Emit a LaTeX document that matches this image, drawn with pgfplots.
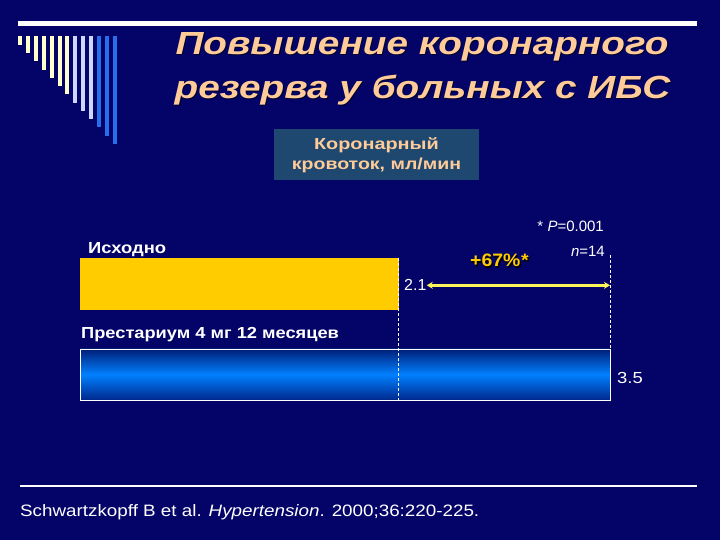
\documentclass[border=0pt]{standalone}
\usepackage{pgfplots}
\pgfplotsset{compat=1.18}
\usepackage{fontspec}
\setmainfont{Liberation Sans}
\usetikzlibrary{arrows.meta}
\definecolor{bg}{RGB}{3,3,104}
\definecolor{peach}{RGB}{255,204,153}
\definecolor{boxc}{RGB}{30,72,112}
\definecolor{goldbar}{RGB}{255,204,0}
\definecolor{arrowy}{RGB}{250,245,90}
\definecolor{pctc}{RGB}{255,204,0}
\definecolor{lightyel}{RGB}{255,255,204}
\definecolor{lightblu}{RGB}{204,214,255}
\definecolor{midblu}{RGB}{40,110,235}
\definecolor{bartop}{RGB}{0,30,120}
\definecolor{barmid}{RGB}{0,128,255}
\definecolor{barbot}{RGB}{0,40,140}
\newcommand\fs[1]{\fontsize{#1}{#1}\selectfont}
\begin{document}
\begin{tikzpicture}
\fill[bg] (0pt,0pt) rectangle (720pt,540pt);
\fill[white] (18pt,513.5pt) rectangle (697pt,518.5pt);
\foreach \i/\c in {0/lightyel,1/lightyel,2/lightyel,3/lightyel,4/lightyel,5/lightyel,6/lightyel,7/lightblu,8/lightblu,9/lightblu,10/midblu,11/midblu,12/midblu}{
  \fill[\c] ({18pt+7.9pt*\i},504pt) rectangle ({22pt+7.9pt*\i},{495pt-8.25pt*\i});
}
\node[anchor=base, text=black!60!bg, font=\fs{32}\bfseries\itshape, inner sep=0pt] at (423pt,484pt) {\scalebox{1.21}[1]{Повышение коронарного}};
\node[anchor=base, text=black!60!bg, font=\fs{32}\bfseries\itshape, inner sep=0pt] at (423.5pt,440pt) {\scalebox{1.21}[1]{резерва у больных с ИБС}};
\node[anchor=base, text=peach, font=\fs{32}\bfseries\itshape, inner sep=0pt] at (422pt,485pt) {\scalebox{1.21}[1]{Повышение коронарного}};
\node[anchor=base, text=peach, font=\fs{32}\bfseries\itshape, inner sep=0pt] at (422.5pt,441pt) {\scalebox{1.21}[1]{резерва у больных с ИБС}};
\fill[boxc] (274pt,360pt) rectangle (479pt,411pt);
\node[anchor=base, text=peach, font=\fs{16}\bfseries, inner sep=0pt] at (376.5pt,390pt) {\scalebox{1.24}[1]{Коронарный}};
\node[anchor=base, text=peach, font=\fs{16}\bfseries, inner sep=0pt] at (376.5pt,370pt) {\scalebox{1.22}[1]{кровоток, мл/мин}};
\node[anchor=base west, text=white, font=\fs{16}\bfseries, inner sep=0pt] at (88pt,286pt) {\scalebox{1.15}[1]{Исходно}};
\node[anchor=base west, text=white, font=\fs{16}\bfseries, inner sep=0pt] at (81pt,201pt) {\scalebox{1.14}[1]{Престариум 4 мг 12 месяцев}};
\fill[white] (20pt,53.3pt) rectangle (697pt,54.7pt);
\node[anchor=base west, text=white, font=\fs{16.5}, inner sep=0pt] at (20pt,23pt) {\scalebox{1.14}[1]{Schwartzkopff B et al. \textit{Hypertension}. 2000;36:220-225.}};
\begin{axis}[at={(80pt,120pt)}, anchor=south west, scale only axis, width=530pt, height=182pt,
  xmin=0, xmax=3.5, ymin=-0.5, ymax=1.5, hide axis, clip=false]
\addplot[xbar, bar width=51pt, bar shift=0pt, fill=goldbar, draw=goldbar] coordinates {(2.1,1)};
\addplot[xbar, bar width=51pt, bar shift=0pt, draw=white, line width=0.8pt, top color=bartop, bottom color=barbot, middle color=barmid] coordinates {(3.5,0)};
\draw[white, line width=0.6pt, dash pattern=on 3pt off 2pt] (axis cs:2.1,1.28) -- (axis cs:2.1,-0.30);
\draw[white, line width=0.6pt, dash pattern=on 3pt off 2pt] (axis cs:3.5,1.31) -- (axis cs:3.5,-0.28);
\draw[arrowy, line width=3pt, {Stealth[length=6pt,width=7pt]}-{Stealth[length=6pt,width=7pt]}] (axis cs:2.29,0.98) -- (axis cs:3.5,0.98);
\node[anchor=west, text=white, font=\fs{16}, inner sep=0pt] at (axis cs:2.1,0.98) [xshift=6pt] {2.1};
\node[anchor=west, text=white, font=\fs{16}, inner sep=0pt] at (axis cs:3.5,-0.04) [xshift=7pt] {\scalebox{1.15}[1]{3.5}};
\node[text=black, font=\fs{18}\bfseries, inner sep=0pt] at (axis cs:2.77,1.25) [xshift=1.2pt,yshift=-1.2pt] {\scalebox{1.08}[1]{+67\%\textit{*}}};
\node[text=pctc, font=\fs{18}\bfseries, inner sep=0pt] at (axis cs:2.77,1.25) {\scalebox{1.08}[1]{+67\%\textit{*}}};
\node[anchor=east, text=white, font=\fs{15}, inner sep=0pt] at (axis cs:3.5,1.63) [xshift=-6pt] {* \textit{P}=0.001};
\node[anchor=east, text=white, font=\fs{15}, inner sep=0pt] at (axis cs:3.5,1.35) [xshift=-5pt] {\textit{n}=14};
\end{axis}
\end{tikzpicture}
\end{document}
